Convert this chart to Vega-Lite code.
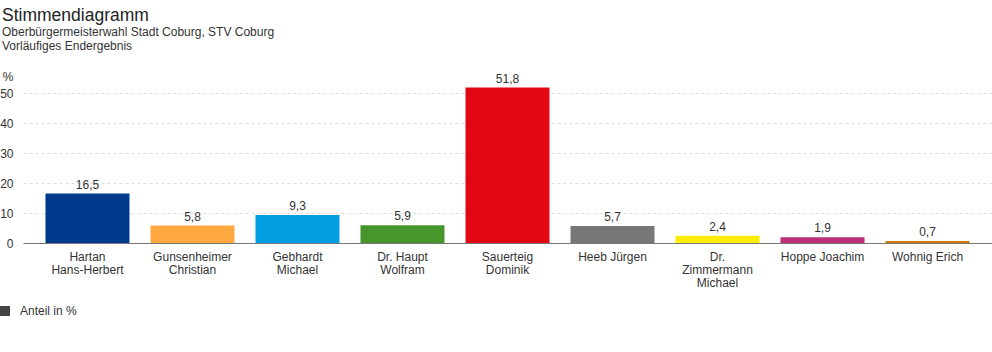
{
  "$schema": "https://vega.github.io/schema/vega-lite/v6.json",
  "width": 969,
  "height": 165,
  "autosize": {"type": "none"},
  "padding": {"left": 23, "top": 78, "right": 0, "bottom": 109},
  "background": "white",
  "config": {
    "font": "Liberation Sans",
    "view": {"stroke": null},
    "locale": {"number": {"decimal": ",", "thousands": ".", "grouping": [3], "currency": ["", " €"]}}
  },
  "title": {
    "text": "Stimmendiagramm",
    "subtitle": ["Oberbürgermeisterwahl Stadt Coburg, STV Coburg", "Vorläufiges Endergebnis"],
    "anchor": "start",
    "frame": "group",
    "orient": "top",
    "dx": -21,
    "offset": 18,
    "fontSize": 17.5,
    "fontWeight": "normal",
    "color": "#222",
    "subtitleFontSize": 12,
    "subtitleColor": "#333",
    "subtitlePadding": 3,
    "subtitleLineHeight": 14
  },
  "data": {
    "values": [
      {"kandidat": "Hartan\nHans-Herbert", "anteil": 16.5},
      {"kandidat": "Gunsenheimer\nChristian", "anteil": 5.8},
      {"kandidat": "Gebhardt\nMichael", "anteil": 9.3},
      {"kandidat": "Dr. Haupt\nWolfram", "anteil": 5.9},
      {"kandidat": "Sauerteig\nDominik", "anteil": 51.8},
      {"kandidat": "Heeb Jürgen", "anteil": 5.7},
      {"kandidat": "Dr.\nZimmermann\nMichael", "anteil": 2.4},
      {"kandidat": "Hoppe Joachim", "anteil": 1.9},
      {"kandidat": "Wohnig Erich", "anteil": 0.7}
    ]
  },
  "encoding": {
    "x": {
      "field": "kandidat",
      "type": "nominal",
      "sort": null,
      "scale": {"paddingInner": 0.2, "paddingOuter": 0.214},
      "axis": {
        "title": null,
        "labelAngle": 0,
        "labelExpr": "split(datum.label, '\\n')",
        "labelFontSize": 12,
        "labelColor": "#333",
        "labelPadding": 8,
        "labelLineHeight": 13,
        "labelBaseline": "top",
        "ticks": false,
        "domainColor": "#777",
        "domainWidth": 1,
        "grid": false
      }
    },
    "y": {
      "field": "anteil",
      "type": "quantitative",
      "scale": {"domain": [0, 55], "nice": false},
      "axis": {
        "title": "%",
        "titleAngle": 0,
        "titleAlign": "right",
        "titleBaseline": "alphabetic",
        "titleX": -10,
        "titleY": 2,
        "titleFontSize": 12,
        "titleFontWeight": "normal",
        "titleColor": "#333",
        "values": [0, 10, 20, 30, 40, 50],
        "labelFontSize": 12,
        "labelColor": "#333",
        "labelPadding": 10,
        "ticks": false,
        "domain": false,
        "grid": true,
        "gridColor": "#dddddd",
        "gridDash": [3, 3],
        "gridWidth": 1
      }
    }
  },
  "layer": [
    {
      "mark": {"type": "bar"},
      "encoding": {
        "fill": {
          "field": "kandidat",
          "type": "nominal",
          "sort": null,
          "legend": null,
          "scale": {
            "domain": ["Hartan\nHans-Herbert", "Gunsenheimer\nChristian", "Gebhardt\nMichael", "Dr. Haupt\nWolfram", "Sauerteig\nDominik", "Heeb Jürgen", "Dr.\nZimmermann\nMichael", "Hoppe Joachim", "Wohnig Erich"],
            "range": ["#003a8c", "#ffa940", "#009ee0", "#46962b", "#e30613", "#787878", "#ffed00", "#be3075", "#d07a00"]
          }
        }
      }
    },
    {
      "mark": {"type": "text", "baseline": "bottom", "dy": -2, "fontSize": 12, "color": "#333"},
      "encoding": {
        "text": {"field": "anteil", "type": "quantitative", "format": ".1f"}
      }
    },
    {
      "mark": {"type": "square", "opacity": 0},
      "encoding": {
        "x": null,
        "y": null,
        "color": {
          "datum": "Anteil in %",
          "scale": {"range": ["#444444"]},
          "legend": {
            "title": null,
            "orient": "none",
            "legendX": -24,
            "legendY": 227,
            "symbolType": "square",
            "symbolSize": 100,
            "labelFontSize": 12,
            "labelColor": "#333",
            "labelOffset": 9
          }
        }
      }
    }
  ]
}
